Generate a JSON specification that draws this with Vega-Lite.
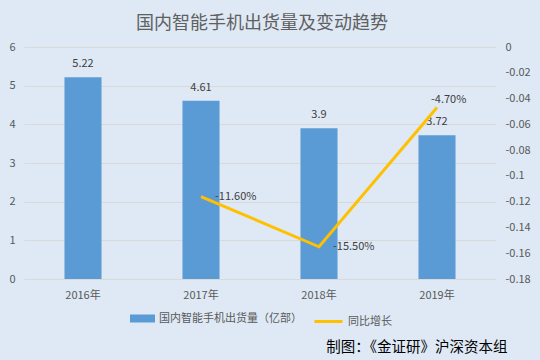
{
  "$schema": "https://vega.github.io/schema/vega-lite/v6.json",
  "width": 472,
  "height": 232,
  "autosize": {"type": "none"},
  "padding": {"left": 24, "top": 47, "right": 44, "bottom": 81},
  "background": "#dee9f5",
  "config": {
    "view": {"stroke": null},
    "font": "Noto Sans CJK SC",
    "legend": {"padding": 0}
  },
  "title": {
    "text": "国内智能手机出货量及变动趋势",
    "fontSize": 18,
    "fontWeight": "normal",
    "color": "#606060",
    "anchor": "middle",
    "offset": 8,
    "dx": 2
  },
  "layer": [
    {
      "data": {
        "values": [
          {"year": "2016年", "shipments": 5.22, "series": "国内智能手机出货量（亿部）"},
          {"year": "2017年", "shipments": 4.61, "series": "国内智能手机出货量（亿部）"},
          {"year": "2018年", "shipments": 3.9, "series": "国内智能手机出货量（亿部）"},
          {"year": "2019年", "shipments": 3.72, "series": "国内智能手机出货量（亿部）"}
        ]
      },
      "encoding": {
        "x": {
          "field": "year",
          "type": "nominal",
          "sort": ["2016年", "2017年", "2018年", "2019年"],
          "scale": {"domain": ["2016年", "2017年", "2018年", "2019年"], "paddingInner": 0.686, "paddingOuter": 0.343},
          "axis": {
            "labelAngle": 0,
            "labelFontSize": 11,
            "labelColor": "#595959",
            "labelPadding": 10,
            "ticks": false,
            "tickSize": 0,
            "domain": false,
            "title": "制图：《金证研》沪深资本组",
            "titleFontSize": 14.5,
            "titleFontWeight": "normal",
            "titleColor": "#000000",
            "titleX": 483,
            "titleY": 68,
            "titleAlign": "right",
            "titleAnchor": null,
            "titleBaseline": "middle"
          }
        },
        "y": {
          "field": "shipments",
          "type": "quantitative",
          "scale": {"domain": [0, 6], "nice": false},
          "axis": {
            "orient": "left",
            "values": [0, 1, 2, 3, 4, 5, 6],
            "grid": true,
            "gridColor": "#d9d9d9",
            "domain": false,
            "ticks": false,
            "tickSize": 0,
            "labelPadding": 9,
            "labelFontSize": 11,
            "labelColor": "#595959",
            "title": null
          }
        }
      },
      "layer": [
        {
          "mark": {"type": "bar"},
          "encoding": {
            "color": {
              "field": "series",
              "type": "nominal",
              "scale": {"range": ["#5b9bd5"]},
              "legend": {
                "orient": "none",
                "legendX": 106,
                "legendY": 259,
                "title": null,
                "symbolType": "M-1,-0.32H1V0.32H-1Z",
                "symbolSize": 625,
                "symbolStrokeWidth": 0,
                "labelFontSize": 11,
                "labelColor": "#595959",
                "labelOffset": 4
              }
            }
          }
        },
        {
          "mark": {"type": "text", "baseline": "bottom", "dy": -8, "fontSize": 11, "color": "#404040"},
          "encoding": {"text": {"field": "shipments", "type": "quantitative"}}
        }
      ]
    },
    {
      "data": {
        "values": [
          {"year": "2017年", "growth": -0.116, "series": "同比增长"},
          {"year": "2018年", "growth": -0.155, "series": "同比增长"},
          {"year": "2019年", "growth": -0.047, "series": "同比增长"}
        ]
      },
      "transform": [
        {"calculate": "replace(format(datum.growth, '.2%'), '\u2212', '-')", "as": "label"}
      ],
      "encoding": {
        "x": {"field": "year", "type": "nominal", "sort": ["2016年", "2017年", "2018年", "2019年"]},
        "y": {
          "field": "growth",
          "type": "quantitative",
          "scale": {"domain": [-0.18, 0], "nice": false, "zero": false},
          "axis": {
            "orient": "right",
            "values": [0, -0.02, -0.04, -0.06, -0.08, -0.1, -0.12, -0.14, -0.16, -0.18],
            "format": "~g",
            "labelExpr": "replace(datum.label, '\u2212', '-')",
            "grid": false,
            "domain": false,
            "ticks": false,
            "tickSize": 0,
            "labelPadding": 9,
            "labelFontSize": 11,
            "labelColor": "#595959",
            "title": null
          }
        }
      },
      "layer": [
        {
          "mark": {"type": "line", "strokeWidth": 3},
          "encoding": {
            "stroke": {
              "field": "series",
              "type": "nominal",
              "scale": {"range": ["#ffc000"]},
              "legend": {
                "orient": "none",
                "legendX": 289,
                "legendY": 259,
                "title": null,
                "symbolType": "stroke",
                "symbolSize": 784,
                "symbolStrokeWidth": 3,
                "labelFontSize": 11,
                "labelColor": "#595959",
                "labelOffset": 4
              }
            }
          }
        },
        {
          "transform": [{"filter": "datum.year !== '2019年'"}],
          "mark": {"type": "text", "align": "left", "baseline": "middle", "dx": 14, "dy": 0, "fontSize": 11, "color": "#404040"},
          "encoding": {"text": {"field": "label", "type": "nominal"}}
        },
        {
          "transform": [{"filter": "datum.year === '2019年'"}],
          "mark": {"type": "text", "align": "left", "baseline": "middle", "dx": -6, "dy": -8, "fontSize": 11, "color": "#404040"},
          "encoding": {"text": {"field": "label", "type": "nominal"}}
        }
      ]
    }
  ],
  "resolve": {"scale": {"y": "independent", "color": "independent", "stroke": "independent"}}
}
